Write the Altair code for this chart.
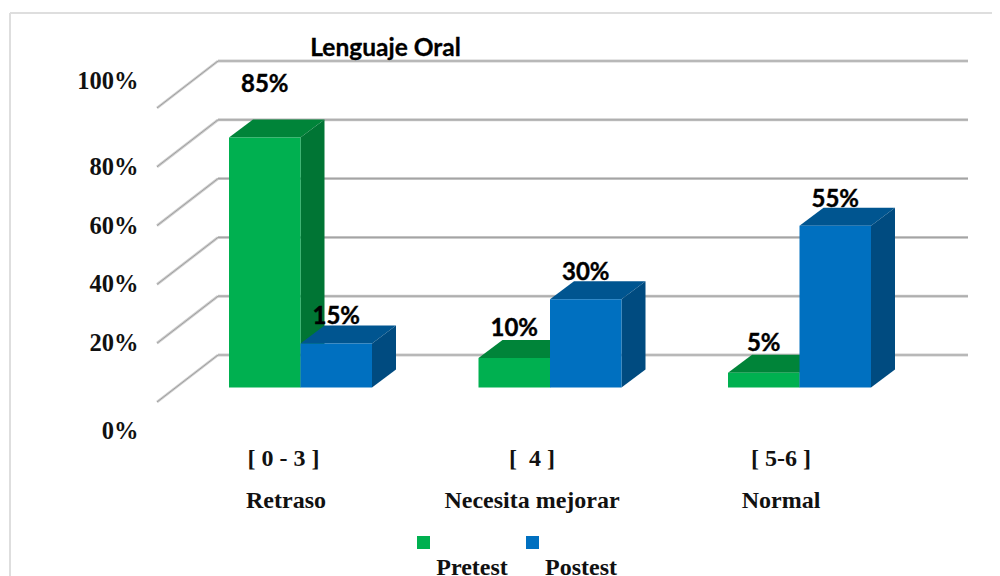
import altair as alt
import pandas as pd

# ---- values ----
categories = ["Retraso", "Necesita mejorar", "Normal"]
ranges = ["[ 0 - 3 ]", "[ \u00a04 ]", "[ 5-6 ]"]
series = ["Pretest", "Postest"]
pretest = [85, 10, 5]
postest = [15, 30, 55]
ticks = [0, 20, 40, 60, 80, 100]

# ---- layout: pixel <-> data ----
W, H = 984, 568
PX_PER_PCT = 2.94
PX_PER_CAT = 249.5
X0_PX, Y0_PX = 300.5, 387.5  # page position of first group centre / value 0


def xu(px):
    return (px - X0_PX) / PX_PER_CAT


def yu(py):
    return (Y0_PX - py) / PX_PER_PCT


x_scale = alt.Scale(domain=[xu(8), xu(8 + W)], nice=False, zero=False)
y_scale = alt.Scale(domain=[yu(8 + H), yu(8)], nice=False, zero=False)
X = lambda f="x": alt.X(f"{f}:Q", scale=x_scale, axis=None)
Y = lambda f="y": alt.Y(f"{f}:Q", scale=y_scale, axis=None)

BAR_W = 71.5 / PX_PER_CAT
DX = 24 / PX_PER_CAT
DY = 18 / PX_PER_PCT

COL = {
    "Pretest": ("#00B050", "#008439", "#007534"),
    "Postest": ("#0070C0", "#005590", "#004B80"),
}

# ---- frame ----
FRAME = "#DEDEDE"
frame = [
    alt.Chart(pd.DataFrame({"a": [0]})).mark_rule(color=FRAME, strokeWidth=2).encode(
        x=alt.value(2), y=alt.value(5), y2=alt.value(H)),
    alt.Chart(pd.DataFrame({"a": [0]})).mark_rule(color=FRAME, strokeWidth=2).encode(
        x=alt.value(2), x2=alt.value(W), y=alt.value(5)),
]

# ---- walls: gridlines along the back, diagonals along the side ----
GRID_LIGHT = "#CDCDCD"
GRID_DARK = "#A4A4A4"
wall_back = yu(355)
wall_front = yu(402)
grid_df = pd.DataFrame({"t": ticks})
grid_df["y"] = grid_df["t"] + wall_back
grid_df["x"] = xu(218)
grid_df["x2"] = xu(968)
grid_under = alt.Chart(grid_df).mark_rule(color=GRID_LIGHT, strokeWidth=3).encode(
    x=X(), x2="x2:Q", y=Y())
grid_over = alt.Chart(grid_df).mark_rule(color=GRID_DARK, strokeWidth=1.2).encode(
    x=X(), x2="x2:Q", y=Y())

diag_rows = []
for t in ticks:
    diag_rows.append({"t": t, "x": xu(157), "y": t + wall_front})
    diag_rows.append({"t": t, "x": xu(218), "y": t + wall_back})
diag_df = pd.DataFrame(diag_rows)
diag_under = alt.Chart(diag_df).mark_line(color=GRID_LIGHT, strokeWidth=2.8).encode(
    x=X(), y=Y(), detail="t:N")
diag_over = alt.Chart(diag_df).mark_line(color="#9A9A9A", strokeWidth=0.9).encode(
    x=X(), y=Y(), detail="t:N")

# ---- bars: top, side and front faces ----
bar_layers = []
for s_i, (name, vals) in enumerate(zip(series, [pretest, postest])):
    front, top, side = COL[name]
    rects, tops, sides = [], [], []
    for c_i, v in enumerate(vals):
        x1 = c_i + (s_i - 1) * BAR_W
        x2 = x1 + BAR_W
        rects.append({"cat": categories[c_i], "x": x1, "x2": x2, "y": v, "y2": 0})
        tops += [
            {"cat": categories[c_i], "y": v, "x": x1, "x2": x2},
            {"cat": categories[c_i], "y": v + DY, "x": x1 + DX, "x2": x2 + DX},
        ]
        sides += [
            {"cat": categories[c_i], "x": x2, "y": v, "y2": 0},
            {"cat": categories[c_i], "x": x2 + DX, "y": v + DY, "y2": DY},
        ]
    bar_layers.append(
        alt.Chart(pd.DataFrame(tops)).mark_area(color=top, orient="horizontal", interpolate="linear").encode(
            y=Y(), x=X(), x2="x2:Q", detail="cat:N"))
    bar_layers.append(
        alt.Chart(pd.DataFrame(sides)).mark_area(color=side, interpolate="linear").encode(
            x=X(), y=Y(), y2="y2:Q", detail="cat:N"))
    bar_layers.append(
        alt.Chart(pd.DataFrame(rects)).mark_rect(color=front).encode(
            x=X(), x2="x2:Q", y=Y(), y2="y2:Q"))

# ---- value labels ----
label_nudge = {"Pretest": [46, 22, 21.5], "Postest": [19, 19, 18.5]}
lab_rows = []
for s_i, (name, vals) in enumerate(zip(series, [pretest, postest])):
    for c_i, v in enumerate(vals):
        lab_rows.append({
            "x": c_i + (s_i - 0.5) * BAR_W,
            "y": v + label_nudge[name][c_i] / PX_PER_PCT,
            "t": f"{v}%",
        })
lab_df = pd.DataFrame(lab_rows)
SANS = "Lato"
SERIF = "Liberation Serif"
value_labels = alt.Chart(lab_df).mark_text(
    font=SANS, fontWeight="bold", fontSize=24, color="black", stroke="black", strokeWidth=0.4,
    baseline="alphabetic", align="center"
).encode(x=X(), y=Y(), text="t:N")

title_df = pd.DataFrame({"x": [xu(385.5)], "y": [yu(56)], "t": ["Lenguaje Oral"]})
title_layer = alt.Chart(title_df).mark_text(
    font=SANS, fontWeight="bold", fontSize=24.5, color="black", stroke="black", strokeWidth=0.3,
    baseline="alphabetic", align="center"
).encode(x=X(), y=Y(), text="t:N")

# ---- value axis labels (placed by hand in the original) ----
tick_label_py = [439, 351, 292, 234, 175, 89]
tick_df = pd.DataFrame({
    "x": [xu(138.5)] * len(ticks),
    "y": [yu(p) for p in tick_label_py],
    "t": [f"{t}%" for t in ticks],
})
tick_layer = alt.Chart(tick_df).mark_text(
    font=SERIF, fontWeight="bold", fontSize=24.5, color="#111111", baseline="alphabetic", align="right"
).encode(x=X(), y=Y(), text="t:N")

# ---- category labels ----
range_px = [283.5, 532, 781]
cat_px = [286, 532, 781]
range_df = pd.DataFrame({"x": [xu(p) for p in range_px], "y": yu(466), "t": ranges})
range_layer = alt.Chart(range_df).mark_text(
    font=SERIF, fontWeight="bold", fontSize=24, color="#111111", baseline="alphabetic", align="center"
).encode(x=X(), y=Y(), text="t:N")
cat_df = pd.DataFrame({"x": [xu(p) for p in cat_px], "y": yu(508), "t": categories})
cat_layer = alt.Chart(cat_df).mark_text(
    font=SERIF, fontWeight="bold", fontSize=24, color="#111111", baseline="alphabetic", align="center"
).encode(x=X(), y=Y(), text="t:N")

# ---- legend ----
leg_df = pd.DataFrame({
    "s": series,
    "x": [xu(423.5), xu(532.5)],
    "y": yu(542.5),
    "tx": [xu(472), xu(581)],
    "ty": yu(575),
})
leg_sq = alt.Chart(leg_df).mark_square(size=169, opacity=1).encode(
    x=X(), y=Y(),
    color=alt.Color("s:N", scale=alt.Scale(domain=series, range=["#00B050", "#0070C0"]), legend=None))
leg_txt = alt.Chart(leg_df).mark_text(
    font=SERIF, fontWeight="bold", fontSize=24, color="#111111", baseline="alphabetic", align="center"
).encode(x=X("tx"), y=Y("ty"), text="s:N")

chart = alt.layer(
    *frame, diag_under, diag_over, grid_under, grid_over, *bar_layers,
    value_labels, title_layer, tick_layer, range_layer, cat_layer, leg_sq, leg_txt
).properties(
    width=W, height=H, padding=0, autosize=alt.AutoSizeParams(type="none"), background="white"
).configure_view(stroke=None)

chart.save("out.html", embed_options={"renderer": "svg", "actions": False})
